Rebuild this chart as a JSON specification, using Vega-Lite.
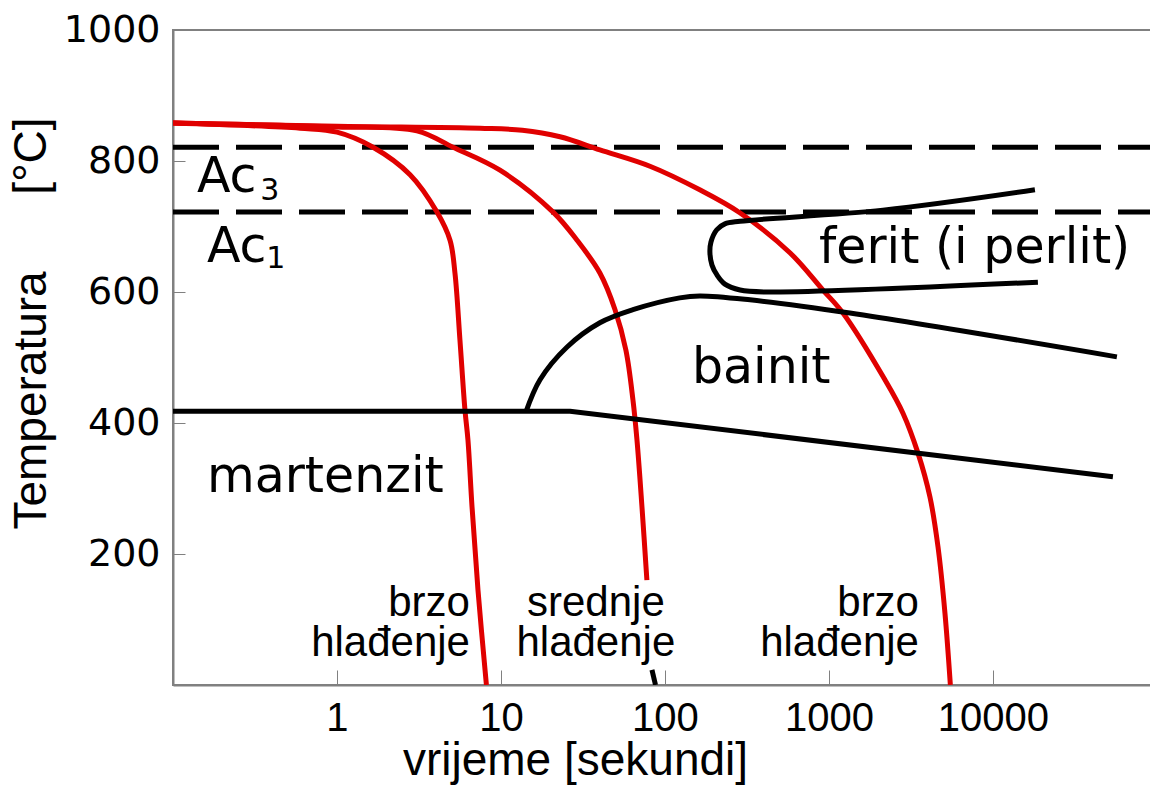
{
  "$schema": "https://vega.github.io/schema/vega-lite/v6.json",
  "width": 990,
  "height": 655,
  "autosize": {"type": "none"},
  "padding": {"left": 173, "top": 30, "right": 0, "bottom": 105},
  "background": "white",
  "config": {
    "view": {"stroke": "#808080", "strokeWidth": 2},
    "axis": {
      "grid": false,
      "domainColor": "#808080",
      "domainWidth": 2,
      "tickColor": "#808080",
      "tickWidth": 1,
      "labelColor": "black",
      "titleColor": "black",
      "titleFontWeight": "normal"
    }
  },
  "datasets": {
    "dashed": [
      {"s": "Ac3", "t": 0.1, "T": 821}, {"s": "Ac3", "t": 108900, "T": 821},
      {"s": "Ac1", "t": 0.1, "T": 722}, {"s": "Ac1", "t": 108900, "T": 722}
    ],
    "red": [
      {"s": "r1", "t": 0.1, "T": 858}, {"s": "r1", "t": 0.595, "T": 850}, {"s": "r1", "t": 1.0, "T": 844},
      {"s": "r1", "t": 1.66, "T": 821}, {"s": "r1", "t": 2.79, "T": 779}, {"s": "r1", "t": 4.07, "T": 722},
      {"s": "r1", "t": 4.89, "T": 679}, {"s": "r1", "t": 5.24, "T": 629}, {"s": "r1", "t": 5.62, "T": 527},
      {"s": "r1", "t": 6.03, "T": 420}, {"s": "r1", "t": 6.29, "T": 374}, {"s": "r1", "t": 6.66, "T": 272},
      {"s": "r1", "t": 7.24, "T": 145}, {"s": "r1", "t": 8.15, "T": 0},
      {"s": "r2", "t": 0.1, "T": 858}, {"s": "r2", "t": 1.0, "T": 852}, {"s": "r2", "t": 3.07, "T": 846},
      {"s": "r2", "t": 5.1, "T": 821}, {"s": "r2", "t": 9.86, "T": 786}, {"s": "r2", "t": 20.8, "T": 722},
      {"s": "r2", "t": 29.1, "T": 679}, {"s": "r2", "t": 40.1, "T": 629}, {"s": "r2", "t": 49.6, "T": 573},
      {"s": "r2", "t": 57.8, "T": 511}, {"s": "r2", "t": 63.8, "T": 435}, {"s": "r2", "t": 67.5, "T": 374},
      {"s": "r2", "t": 72.4, "T": 272}, {"s": "r2", "t": 77.6, "T": 160},
      {"s": "r3", "t": 0.1, "T": 858}, {"s": "r3", "t": 1.0, "T": 853}, {"s": "r3", "t": 7.45, "T": 850},
      {"s": "r3", "t": 13.5, "T": 847}, {"s": "r3", "t": 22.9, "T": 837}, {"s": "r3", "t": 40.1, "T": 817},
      {"s": "r3", "t": 81.0, "T": 792}, {"s": "r3", "t": 163, "T": 756}, {"s": "r3", "t": 286, "T": 721},
      {"s": "r3", "t": 578, "T": 660}, {"s": "r3", "t": 919, "T": 603}, {"s": "r3", "t": 1217, "T": 568},
      {"s": "r3", "t": 2195, "T": 466}, {"s": "r3", "t": 2827, "T": 415},
      {"s": "r3", "t": 3491, "T": 354}, {"s": "r3", "t": 4130, "T": 287}, {"s": "r3", "t": 4623, "T": 211},
      {"s": "r3", "t": 5097, "T": 110}, {"s": "r3", "t": 5500, "T": 0}
    ],
    "blackLinear": [
      {"s": "Ms", "t": 0.1, "T": 418}, {"s": "Ms", "t": 26.4, "T": 418}, {"s": "Ms", "t": 53900, "T": 318},
      {"s": "tick", "t": 83.3, "T": 23}, {"s": "tick", "t": 87.6, "T": 0}
    ],
    "blackCurves": [
      {"s": "bainit", "o": 1, "t": 14.2, "T": 417}, {"s": "bainit", "o": 2, "t": 17.3, "T": 466},
      {"s": "bainit", "o": 3, "t": 25.3, "T": 516}, {"s": "bainit", "o": 4, "t": 40.1, "T": 553},
      {"s": "bainit", "o": 5, "t": 63.8, "T": 573}, {"s": "bainit", "o": 6, "t": 123, "T": 591},
      {"s": "bainit", "o": 7, "t": 163, "T": 594}, {"s": "bainit", "o": 8, "t": 330, "T": 588},
      {"s": "bainit", "o": 9, "t": 1343, "T": 568}, {"s": "bainit", "o": 10, "t": 57000, "T": 501},
      {"s": "ferit", "o": 1, "t": 18030, "T": 756}, {"s": "ferit", "o": 2, "t": 2134, "T": 725},
      {"s": "ferit", "o": 3, "t": 287, "T": 708}, {"s": "ferit", "o": 4, "t": 232, "T": 704},
      {"s": "ferit", "o": 5, "t": 207, "T": 695}, {"s": "ferit", "o": 6, "t": 190.6, "T": 676},
      {"s": "ferit", "o": 7, "t": 188, "T": 660}, {"s": "ferit", "o": 8, "t": 193.5, "T": 641},
      {"s": "ferit", "o": 9, "t": 207.5, "T": 626}, {"s": "ferit", "o": 10, "t": 232, "T": 612},
      {"s": "ferit", "o": 11, "t": 287, "T": 603}, {"s": "ferit", "o": 12, "t": 419, "T": 600},
      {"s": "ferit", "o": 13, "t": 18800, "T": 615}
    ],
    "labels": [
      {"g": "big", "t": 0.14, "T": 753, "text": "Ac"},
      {"g": "big", "t": 0.161, "T": 646, "text": "Ac"},
      {"g": "big", "t": 870, "T": 644, "text": "ferit (i perlit)"},
      {"g": "big", "t": 146, "T": 461, "text": "bainit"},
      {"g": "big", "t": 0.161, "T": 295, "text": "martenzit"},
      {"g": "sub", "t": 0.34, "T": 740, "text": "3"},
      {"g": "sub", "t": 0.37, "T": 637, "text": "1"}
    ],
    "notes": [
      {"g": "right", "t": 6.47, "T": 106, "text": ["brzo", "hlađenje"]},
      {"g": "right", "t": 3540, "T": 106, "text": ["brzo", "hlađenje"]},
      {"g": "center", "t": 37.9, "T": 106, "text": ["srednje", "hlađenje"]}
    ]
  },
  "encoding": {
    "x": {
      "field": "t", "type": "quantitative",
      "scale": {"type": "log", "domain": [0.1, 108900], "nice": false},
      "axis": {
        "values": [1, 10, 100, 1000, 10000], "format": "d",
        "tickSize": -15, "labelPadding": 28,
        "labelFont": "Liberation Sans", "labelFontSize": 40,
        "title": "vrijeme [sekundi]", "titleFont": "Liberation Sans", "titleFontSize": 46,
        "titlePadding": 0, "titleX": 402, "titleAnchor": "middle"
      }
    },
    "y": {
      "field": "T", "type": "quantitative",
      "scale": {"domain": [0, 1000], "nice": false},
      "axis": {
        "values": [200, 400, 600, 800, 1000], "format": "d",
        "tickSize": -12, "labelPadding": 25,
        "labelFont": "DejaVu Sans", "labelFontSize": 38,
        "title": "Temperatura\u00a0\u00a0\u00a0\u00a0\u00a0 [°C]", "titleFont": "Liberation Sans", "titleFontSize": 46,
        "titlePadding": 8, "titleY": 293
      }
    }
  },
  "layer": [
    {
      "data": {"name": "dashed"},
      "mark": {"type": "line", "color": "black", "strokeWidth": 5, "strokeDash": [46, 17], "clip": true},
      "encoding": {"detail": {"field": "s"}}
    },
    {
      "data": {"name": "red"},
      "mark": {"type": "line", "color": "#e00000", "strokeWidth": 5, "interpolate": "catmull-rom", "clip": true},
      "encoding": {"detail": {"field": "s"}}
    },
    {
      "data": {"name": "blackLinear"},
      "mark": {"type": "line", "color": "black", "strokeWidth": 5, "clip": true},
      "encoding": {"detail": {"field": "s"}}
    },
    {
      "data": {"name": "blackCurves"},
      "mark": {"type": "line", "color": "black", "strokeWidth": 5, "interpolate": "catmull-rom", "clip": true},
      "encoding": {"detail": {"field": "s"}, "order": {"field": "o"}}
    },
    {
      "data": {"name": "labels"},
      "transform": [{"filter": "datum.g === 'big'"}],
      "mark": {"type": "text", "font": "DejaVu Sans", "fontSize": 49, "align": "left", "baseline": "alphabetic", "color": "black"},
      "encoding": {"text": {"field": "text"}}
    },
    {
      "data": {"name": "labels"},
      "transform": [{"filter": "datum.g === 'sub'"}],
      "mark": {"type": "text", "font": "DejaVu Sans", "fontSize": 30, "align": "left", "baseline": "alphabetic", "color": "black"},
      "encoding": {"text": {"field": "text"}}
    },
    {
      "data": {"name": "notes"},
      "transform": [{"filter": "datum.g === 'right'"}],
      "mark": {"type": "text", "font": "Liberation Sans", "fontSize": 42, "lineHeight": 40, "align": "right", "baseline": "alphabetic", "color": "black"},
      "encoding": {"text": {"field": "text"}}
    },
    {
      "data": {"name": "notes"},
      "transform": [{"filter": "datum.g === 'center'"}],
      "mark": {"type": "text", "font": "Liberation Sans", "fontSize": 42, "lineHeight": 40, "align": "center", "baseline": "alphabetic", "color": "black"},
      "encoding": {"text": {"field": "text"}}
    }
  ]
}
